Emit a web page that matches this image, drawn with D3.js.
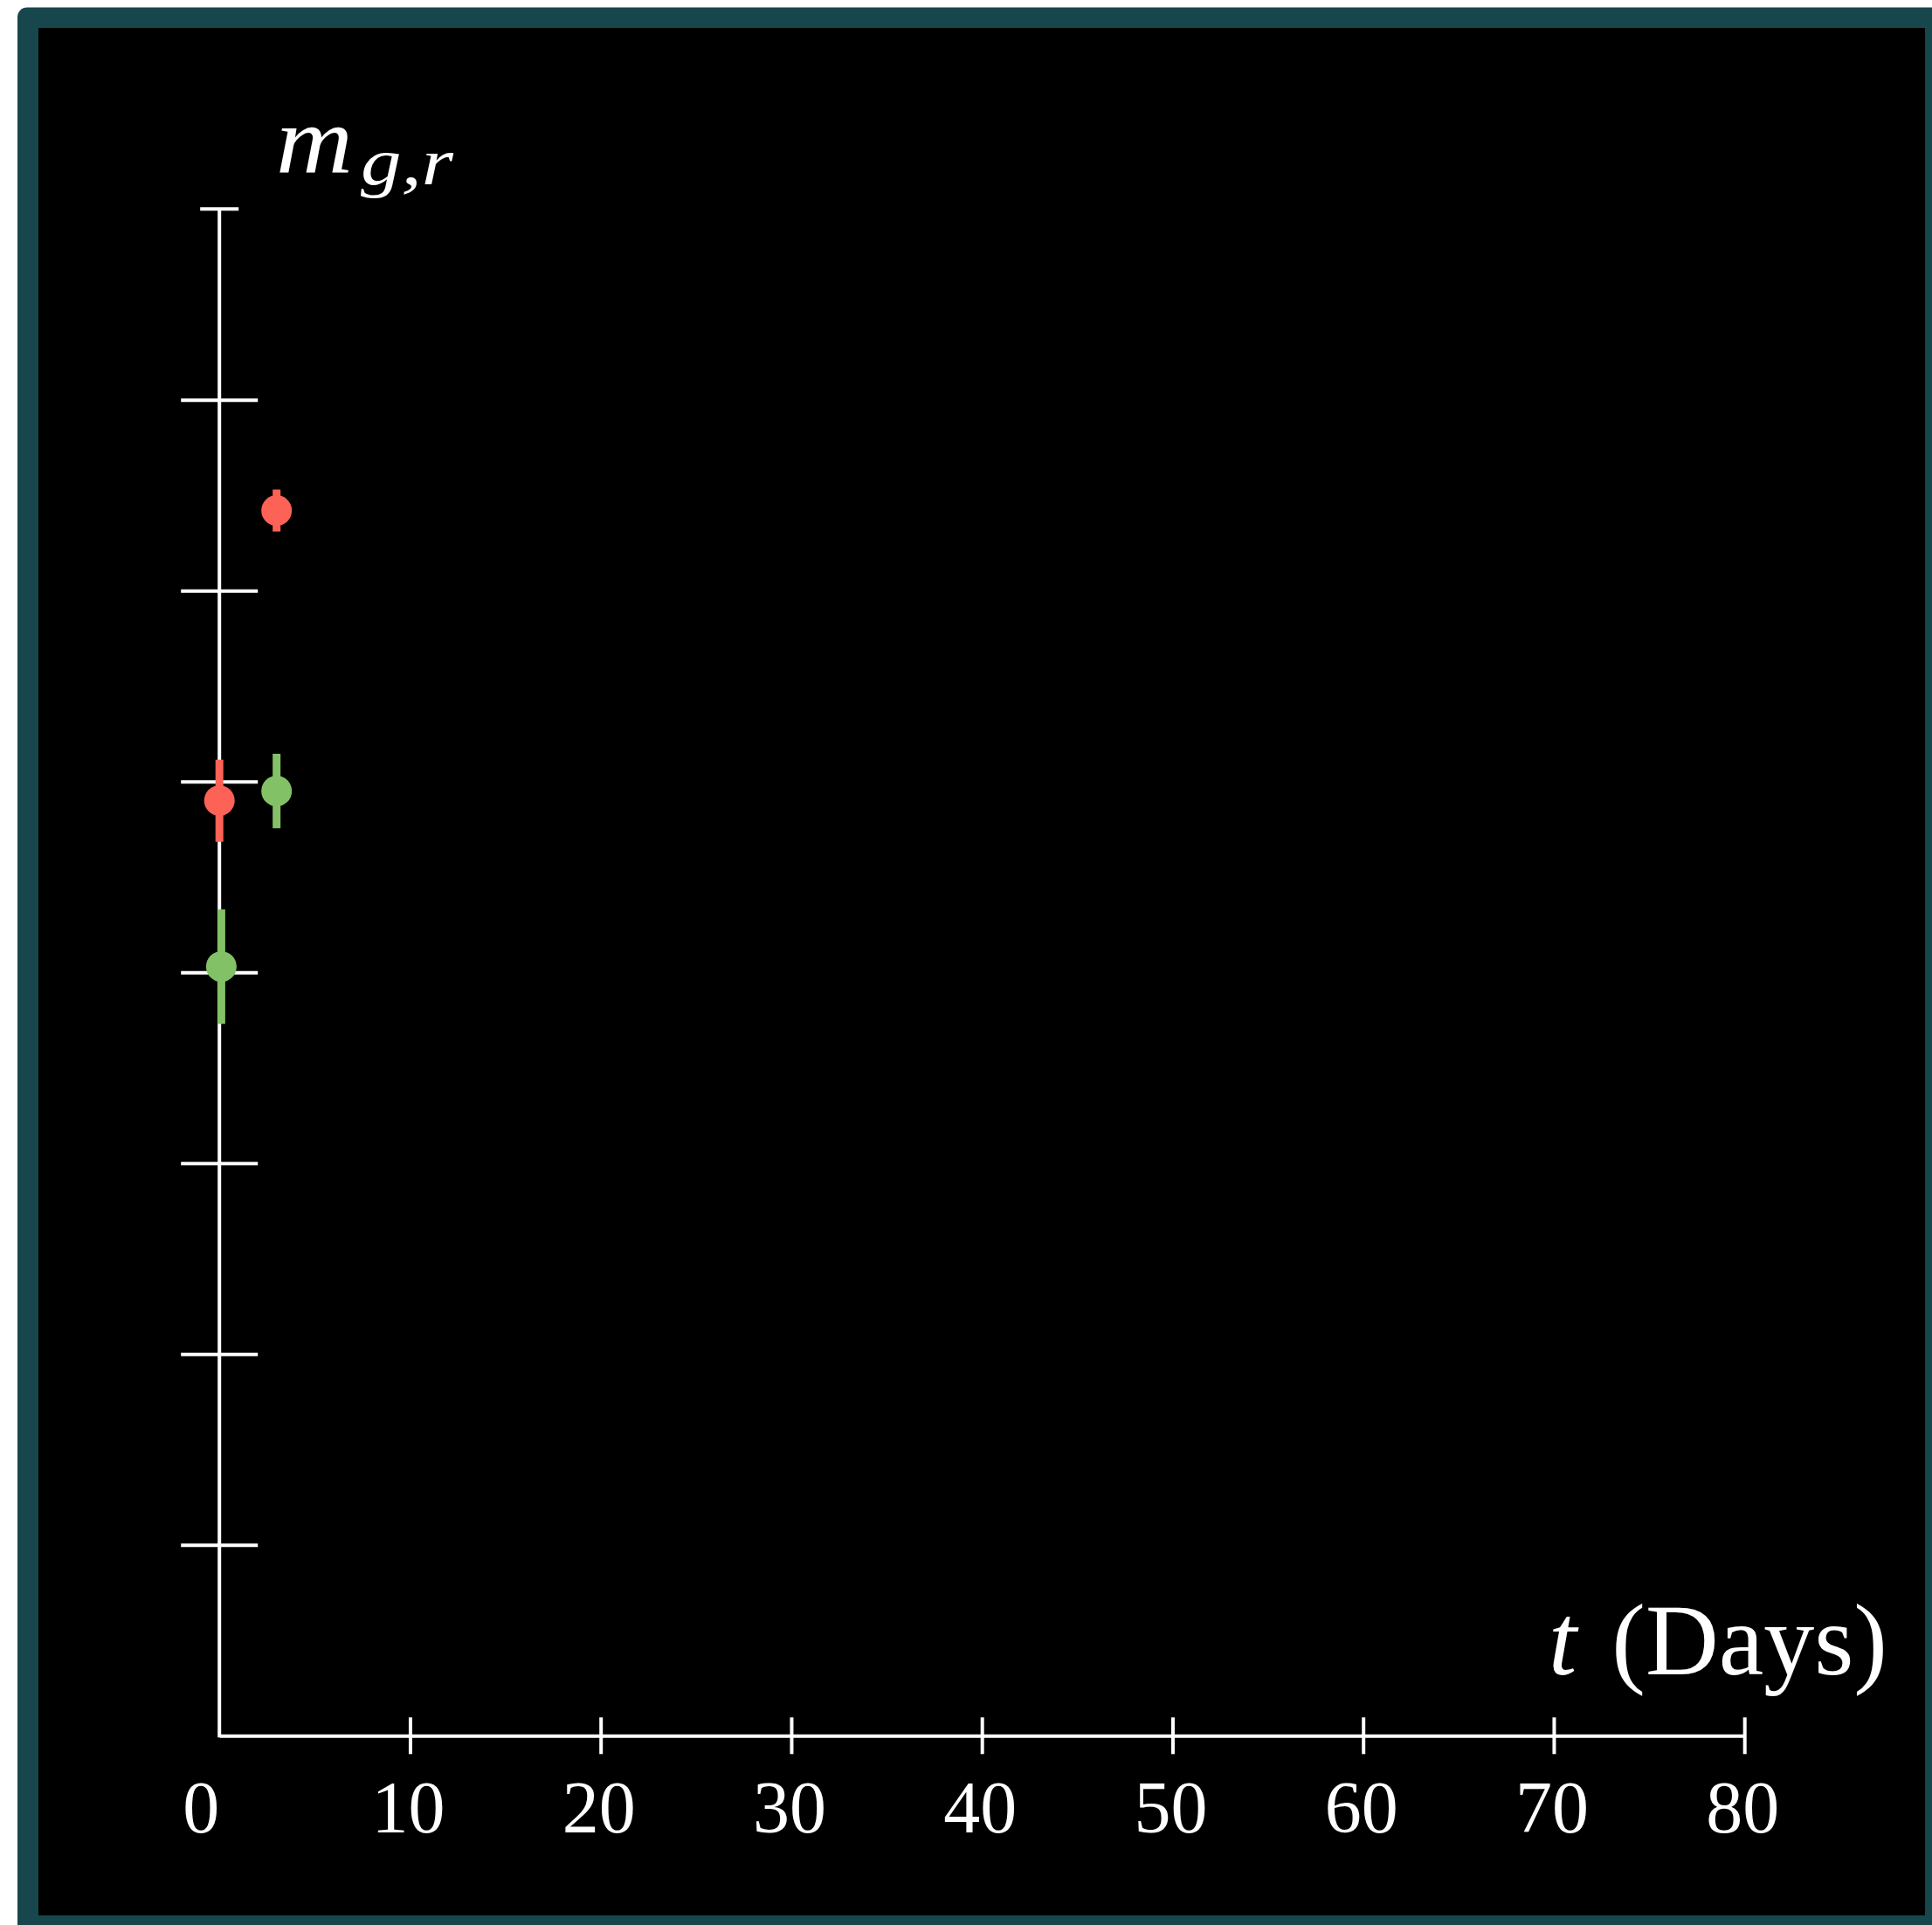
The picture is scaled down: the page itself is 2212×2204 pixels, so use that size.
<!DOCTYPE html>
<html>
<head>
<meta charset="utf-8">
<script src="https://cdn.jsdelivr.net/npm/d3@7"></script>
<style>
  html, body { margin: 0; padding: 0; background: #ffffff; }
  svg { display: block; }
  text { font-family: "Liberation Serif", "DejaVu Serif", serif; fill: #ffffff; }
</style>
</head>
<body>
<script>
// Magnitude measurements in the g and r bands against time (days)
const series = ["r", "g"];
const seriesColors = ["#FC6255", "#83C167"];
const tDays = [[0.0, 3.0], [0.1, 3.0]];
const magnitude = [[4.90, 6.42], [4.03, 4.95]];
const magError = [[0.215, 0.11], [0.30, 0.195]];

const xTicks = [0, 10, 20, 30, 40, 50, 60, 70, 80];
const xTickLabels = ["0", "10", "20", "30", "40", "50", "60", "70", "80"];
const yTicks = [1, 2, 3, 4, 5, 6, 7];
const yMax = 8;

const W = 2212, H = 2204;
const svg = d3.select("body").append("svg").attr("width", W).attr("height", H);

// window frame
svg.append("rect").attr("x", 20).attr("y", 8.5).attr("width", W).attr("height", H + 20)
  .attr("rx", 11).attr("fill", "#17464D");
svg.append("rect").attr("x", 44).attr("y", 32).attr("width", 2160).attr("height", 2161)
  .attr("fill", "#000000");

const x = d3.scaleLinear().domain([0, 80]).range([251.2, 1997.2]);
const y = d3.scaleLinear().domain([0, yMax]).range([1987.3, 239.3]);

const axisStroke = 4;

// x axis: line to 80, ticks crossing the line
const gx = svg.append("g").attr("transform", `translate(0,${y(0)})`)
  .call(d3.axisBottom(x).tickValues(xTicks.slice(1)).tickFormat("").tickSizeOuter(0));
gx.select(".domain").attr("stroke", "#fff").attr("stroke-width", axisStroke);
gx.selectAll(".tick line").attr("stroke", "#fff").attr("stroke-width", axisStroke)
  .attr("y1", -21).attr("y2", 21);

// y axis: unlabelled ticks, short cap at the top
const gy = svg.append("g").attr("transform", `translate(${x(0)},0)`)
  .call(d3.axisLeft(y).tickValues(yTicks).tickFormat("").tickSizeOuter(0));
gy.select(".domain").attr("d", `M0,${y(0) + 2}V${y(yMax)}`)
  .attr("stroke", "#fff").attr("stroke-width", axisStroke).attr("fill", "none");
gy.selectAll(".tick line").attr("stroke", "#fff").attr("stroke-width", axisStroke)
  .attr("x1", -44).attr("x2", 44);
gy.append("line").attr("x1", -22).attr("x2", 22)
  .attr("y1", y(yMax)).attr("y2", y(yMax))
  .attr("stroke", "#fff").attr("stroke-width", axisStroke);

// x tick labels
svg.append("g").selectAll("text").data(xTicks).join("text")
  .attr("x", (d) => x(d) + (d === 0 ? -21 : -2))
  .attr("y", 2098)
  .attr("text-anchor", "middle")
  .attr("font-size", 84)
  .text((d, i) => xTickLabels[i]);

// axis titles
svg.append("text").attr("x", 316).attr("y", 198).attr("font-size", 110)
  .attr("font-style", "italic")
  .attr("textLength", 88).attr("lengthAdjust", "spacingAndGlyphs")
  .text("m");
svg.append("text").attr("x", 413).attr("y", 211).attr("font-size", 76)
  .attr("font-style", "italic")
  .attr("textLength", 106).attr("lengthAdjust", "spacingAndGlyphs")
  .text("g,r");

const xl = svg.append("text").attr("x", 2161).attr("y", 1917).attr("font-size", 116)
  .attr("text-anchor", "end");
xl.append("tspan").attr("font-style", "italic").text("t");
xl.append("tspan").attr("dx", 40).text("(Days)");

// data points with vertical error bars
series.forEach((s, si) => {
  const pts = tDays[si].map((t, i) => ({ t, m: magnitude[si][i], e: magError[si][i] }));
  const g = svg.append("g").attr("class", "series-" + s);
  g.selectAll("line").data(pts).join("line")
    .attr("x1", (d) => x(d.t)).attr("x2", (d) => x(d.t))
    .attr("y1", (d) => y(d.m + d.e)).attr("y2", (d) => y(d.m - d.e))
    .attr("stroke", seriesColors[si]).attr("stroke-width", 9);
  g.selectAll("circle").data(pts).join("circle")
    .attr("cx", (d) => x(d.t)).attr("cy", (d) => y(d.m)).attr("r", 17.5)
    .attr("fill", seriesColors[si]);
});
</script>
</body>
</html>
